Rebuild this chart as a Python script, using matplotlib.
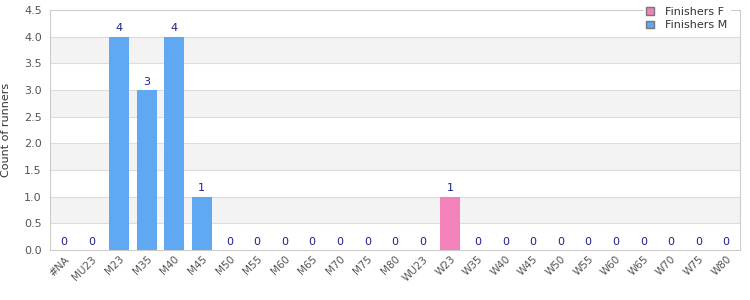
import matplotlib
matplotlib.use("Agg")
import matplotlib.pyplot as plt
import numpy as np
from matplotlib.patches import Patch

categories = ["#NA", "MU23", "M23", "M35", "M40", "M45", "M50", "M55", "M60", "M65",
              "M70", "M75", "M80", "WU23", "W23", "W35", "W40", "W45", "W50", "W55",
              "W60", "W65", "W70", "W75", "W80"]
finishers_m = [0, 0, 4, 3, 4, 1, 0, 0, 0, 0, 0, 0, 0, 0, 0, 0, 0, 0, 0, 0, 0, 0, 0, 0, 0]
finishers_f = [0, 0, 0, 0, 0, 0, 0, 0, 0, 0, 0, 0, 0, 0, 1, 0, 0, 0, 0, 0, 0, 0, 0, 0, 0]

blue = "#60a8f2"
pink = "#f282b9"
label_color = "#1f1f8f"
text_color = "#555555"
grid_color = "#dddddd"

fig = plt.figure(figsize=(7.5, 3.0), dpi=100)
ax = fig.add_axes([0.0667, 0.1667, 0.92, 0.8])

x = np.arange(len(categories))
m = np.array(finishers_m)
f = np.array(finishers_f)
ax.set_xlim(-0.5, len(categories) - 0.5)
ax.set_ylim(0, 4.5)

# alternating bands
for lo in np.arange(0.5, 4.5, 1.0):
    ax.axhspan(lo, lo + 0.5, color="#f3f3f3", zorder=0, lw=0)
for yv in np.arange(0.5, 4.5, 0.5):
    ax.axhline(yv, color=grid_color, lw=0.8, zorder=0.5)

ax.bar(x, m, width=0.72, color=blue, zorder=2)
ax.bar(x, f, width=0.72, bottom=m, color=pink, zorder=2)

tot = m + f
for xi, t in zip(x, tot):
    ax.text(xi, t + 0.06, f"{t}", ha="center", va="bottom", fontsize=8, color=label_color, zorder=3)

ax.set_xticks(x)
ax.set_xticklabels(categories, rotation=45, ha="right", rotation_mode="anchor",
                   fontsize=7.5, color=text_color)
ax.set_yticks(np.arange(0, 4.51, 0.5))
ax.set_yticklabels([f"{v:.1f}" for v in np.arange(0, 4.51, 0.5)], fontsize=8, color=text_color)
ax.tick_params(axis="x", length=0, pad=3)
ax.tick_params(axis="y", length=0, pad=6)
ax.set_ylabel("Count of runners", fontsize=8, color="#333333", labelpad=9)

for s in ax.spines.values():
    s.set_color("#cccccc")
    s.set_linewidth(0.8)

handles = [Patch(facecolor=pink, edgecolor="#777777", label="Finishers F"),
           Patch(facecolor=blue, edgecolor="#777777", label="Finishers M")]
leg = ax.legend(handles=handles, loc="upper right", bbox_to_anchor=(0.993, 1.045),
                fontsize=8, frameon=True, handlelength=0.7, handleheight=0.7,
                labelspacing=0.3, borderpad=0.2, handletextpad=1.0)
leg.get_frame().set_facecolor("white")
leg.get_frame().set_edgecolor("white")
leg.get_frame().set_alpha(1.0)
for t in leg.get_texts():
    t.set_color("#333333")

fig.savefig("out.png", dpi=100)
